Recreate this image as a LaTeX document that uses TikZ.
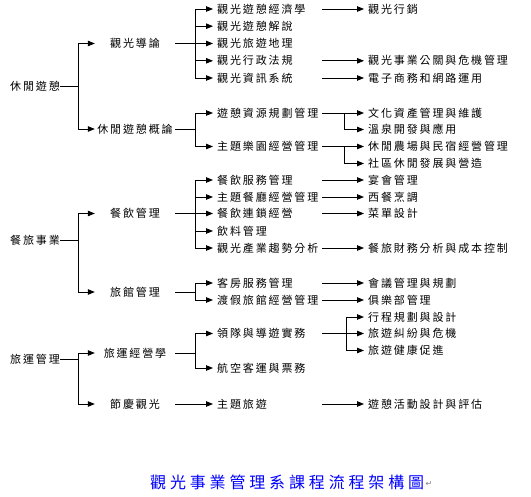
\documentclass[tikz,border=0pt]{standalone}
\usepackage{fontspec}
\usetikzlibrary{arrows.meta}
\newfontfamily\cjk[LetterSpace=17]{Noto Sans CJK TC}
\newfontfamily\cjktitle[LetterSpace=24]{Noto Sans CJK TC}
\newfontfamily\symfont{DejaVu Sans}
\begin{document}
\begin{tikzpicture}[x=1pt,y=-1pt,
  lv/.style={font=\cjk\fontsize{11}{13}\selectfont, inner sep=0pt},
  c1/.style={lv, anchor=west},
  c2/.style={lv, minimum width=80pt},
  c3/.style={lv, anchor=west, text width=105pt, align=left},
  c4/.style={lv, anchor=west},
  ln/.style={line width=0.8pt},
  arr/.style={ln, -{Triangle[length=7pt,width=5.5pt]}},
  arrs/.style={arr, shorten >=4pt}]
\useasboundingbox (0,0) rectangle (531,497);
% column 1
\node[c1] (r1) at (10,86.5) {休閒遊憩};
\node[c1] (r2) at (10,240) {餐旅事業};
\node[c1] (r3) at (10,359) {旅運管理};
% column 2
\node[c2] (m1) at (135,43.5) {觀光導論};
\node[c2] (m2) at (135,129) {休閒遊憩概論};
\node[c2] (m3) at (135,213.5) {餐飲管理};
\node[c2] (m4) at (135,292) {旅館管理};
\node[c2] (m5) at (135,353) {旅運經營學};
\node[c2] (m6) at (135,404) {節慶觀光};
% column 3
\node[c3] (a1) at (217,9) {觀光遊憩經濟學};
\node[c3] (a2) at (217,26.2) {觀光遊憩解說};
\node[c3] (a3) at (217,43.5) {觀光旅遊地理};
\node[c3] (a4) at (217,60.8) {觀光行政法規};
\node[c3] (a5) at (217,78) {觀光資訊系統};
\node[c3] (a6) at (217,113) {遊憩資源規劃管理};
\node[c3] (a7) at (217,146.5) {主題樂園經營管理};
\node[c3] (a8) at (217,180) {餐飲服務管理};
\node[c3] (a9) at (217,197) {主題餐廳經營管理};
\node[c3] (a10) at (217,213.5) {餐飲連鎖經營};
\node[c3] (a11) at (217,231) {飲料管理};
\node[c3] (a12) at (217,248) {觀光產業趨勢分析};
\node[c3] (a13) at (217,283) {客房服務管理};
\node[c3] (a14) at (217,300) {渡假旅館經營管理};
\node[c3] (a15) at (217,333.5) {領隊與導遊實務};
\node[c3] (a16) at (217,368) {航空客運與票務};
\node[c3] (a17) at (217,404) {主題旅遊};
% column 4
\node[c4] (b1) at (368,9) {觀光行銷};
\node[c4] (b2) at (368,60.8) {觀光事業公關與危機管理};
\node[c4] (b3) at (368,78) {電子商務和網路運用};
\node[c4] (b4) at (368,113) {文化資產管理與維護};
\node[c4] (b5) at (368,129.5) {溫泉開發與應用};
\node[c4] (b6) at (368,146.5) {休閒農場與民宿經營管理};
\node[c4] (b7) at (368,163.5) {社區休閒發展與營造};
\node[c4] (b8) at (368,180) {宴會管理};
\node[c4] (b9) at (368,197) {西餐烹調};
\node[c4] (b10) at (368,213.5) {菜單設計};
\node[c4] (b11) at (368,248) {餐旅財務分析與成本控制};
\node[c4] (b12) at (368,283) {會議管理與規劃};
\node[c4] (b13) at (368,300) {俱樂部管理};
\node[c4] (b14) at (368,317) {行程規劃與設計};
\node[c4] (b15) at (368,333.5) {旅遊糾紛與危機};
\node[c4] (b16) at (368,350.5) {旅遊健康促進};
\node[c4] (b17) at (368,404) {遊憩活動設計與評估};
% title
\node[anchor=west, inner sep=0pt, font=\cjktitle\fontsize{16}{18}\selectfont, text=blue] (t) at (150,482) {觀光事業管理系課程流程架構圖};
\node[anchor=west, inner sep=0pt, font=\symfont\fontsize{8}{10}\selectfont, text=gray] (pm) at ([xshift=1pt,yshift=-2pt]t.east) {↵};
% junctions
\coordinate (j1) at (78,86.5);
\coordinate (j2) at (78,240);
\coordinate (j3) at (78,359);
\coordinate (k1) at (195,43.5);
\coordinate (k2) at (195,129);
\coordinate (k3) at (195,213.5);
\coordinate (k4) at (195,292);
\coordinate (k5) at (195,353);
\coordinate (q6) at (344,113);
\coordinate (q7) at (344,146.5);
\coordinate (q15) at (346,333.5);
% level 1
\draw[ln] (r1.east) -- (j1);
\draw[arr] (j1) |- (m1.west);
\draw[arr] (j1) |- (m2.west);
\draw[ln] (r2.east) -- (j2);
\draw[arr] (j2) |- (m3.west);
\draw[arr] (j2) |- (m4.west);
\draw[ln] (r3.east) -- (j3);
\draw[arr] (j3) |- (m5.west);
\draw[arr] (j3) |- (m6.west);
% level 2
\draw[ln] (m1.east) -- (k1);
\foreach \n in {a1,a2,a3,a4,a5} \draw[arrs] (k1) |- (\n.west);
\draw[ln] (m2.east) -- (k2);
\foreach \n in {a6,a7} \draw[arrs] (k2) |- (\n.west);
\draw[ln] (m3.east) -- (k3);
\foreach \n in {a8,a9,a10,a11,a12} \draw[arrs] (k3) |- (\n.west);
\draw[ln] (m4.east) -- (k4);
\foreach \n in {a13,a14} \draw[arrs] (k4) |- (\n.west);
\draw[ln] (m5.east) -- (k5);
\foreach \n in {a15,a16} \draw[arrs] (k5) |- (\n.west);
\draw[arrs] (m6.east) -- (a17.west);
% level 3
\draw[arrs] (a1.east) -- (b1.west);
\draw[arrs] (a4.east) -- (b2.west);
\draw[arrs] (a5.east) -- (b3.west);
\draw[ln] (a6.east) -- (q6);
\draw[arrs] (q6) |- (b4.west);
\draw[arrs] (q6) |- (b5.west);
\draw[ln] (a7.east) -- (q7);
\draw[arrs] (q7) |- (b6.west);
\draw[arrs] (q7) |- (b7.west);
\draw[arrs] (a8.east) -- (b8.west);
\draw[arrs] (a9.east) -- (b9.west);
\draw[arrs] (a10.east) -- (b10.west);
\draw[arrs] (a12.east) -- (b11.west);
\draw[arrs] (a13.east) -- (b12.west);
\draw[arrs] (a14.east) -- (b13.west);
\draw[arrs] (a15.east) -- (b15.west);
\draw[arrs] (q15) |- (b14.west);
\draw[arrs] (q15) |- (b16.west);
\draw[arrs] (a17.east) -- (b17.west);
\end{tikzpicture}
\end{document}
